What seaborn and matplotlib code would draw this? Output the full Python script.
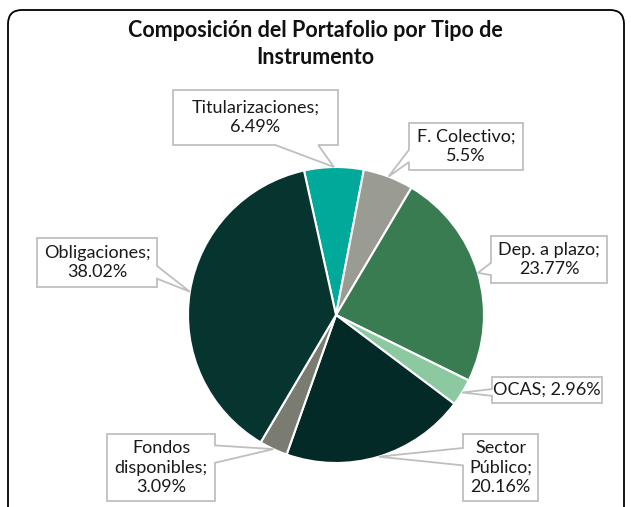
import matplotlib
matplotlib.use("Agg")
import matplotlib.pyplot as plt
from matplotlib.patches import Polygon, FancyBboxPatch
import numpy as np
import seaborn as sns

# data (clockwise from the top)
names = ["Titularizaciones", "F. Colectivo", "Dep. a plazo", "OCAS",
         "Sector\nPúblico", "Fondos\ndisponibles", "Obligaciones"]
shares = [6.49, 5.5, 23.77, 2.96, 20.16, 3.09, 38.02]
colors = ["#00A99A", "#9A9B92", "#3A7C52", "#8CC9A0",
          "#032A26", "#7B7C71", "#06352F"]
title = "Composición del Portafolio por Tipo de\nInstrumento"

# layout (pixels, y from top)
W, H = 631, 507
center = (336, 315)
radius = 148
seps = ["\n", "\n", "\n", " ", "\n", "\n", "\n"]
boxes = [(173, 90, 338, 145), (409, 123, 523, 170), (491, 236, 607, 283),
         (492, 377, 602, 403), (463, 434, 538, 501), (107, 434, 215, 501),
         (37, 238, 157, 287)]

sns.set_theme(style="white")
plt.rcParams["font.family"] = ["Lato", "DejaVu Sans"]

fig = plt.figure(figsize=(W / 100, H / 100), dpi=100)
ax = fig.add_axes([0, 0, 1, 1])


def fy(y):
    return H - y


wedges, _ = ax.pie(shares, colors=colors, startangle=102.5, counterclock=False,
                   center=(center[0], fy(center[1])), radius=radius,
                   wedgeprops=dict(edgecolor="white", linewidth=1.5))
ax.set_xlim(0, W)
ax.set_ylim(0, H)
ax.set_aspect("auto")
ax.axis("off")


def callout(box, tip):
    x0, y0, x1, y1 = box
    tx, ty = tip
    dx = max(x0 - tx, tx - x1, 0)
    dy = max(y0 - ty, ty - y1, 0)
    if dx > dy:
        L = y1 - y0
        c = np.clip(ty, y0 + 0.3 * L, y1 - 0.3 * L)
        a, b = c - 0.13 * L, c + 0.13 * L
        if tx < x0:
            v = [(x0, y0), (x1, y0), (x1, y1), (x0, y1), (x0, b), (tx, ty), (x0, a)]
        else:
            v = [(x0, y0), (x1, y0), (x1, a), (tx, ty), (x1, b), (x1, y1), (x0, y1)]
    else:
        L = x1 - x0
        c = np.clip(tx, x0 + 0.25 * L, x1 - 0.25 * L)
        a, b = c - 0.13 * L, c + 0.13 * L
        if ty > y1:
            v = [(x0, y0), (x1, y0), (x1, y1), (b, y1), (tx, ty), (a, y1), (x0, y1)]
        else:
            v = [(x0, y0), (a, y0), (tx, ty), (b, y0), (x1, y0), (x1, y1), (x0, y1)]
    return [(x, fy(y)) for x, y in v]


for w, name, val, sep, box in zip(wedges, names, shares, seps, boxes):
    mid = np.deg2rad((w.theta1 + w.theta2) / 2)
    tip = (center[0] + radius * np.cos(mid), center[1] - radius * np.sin(mid))
    ax.add_patch(Polygon(callout(box, tip), closed=True, facecolor="white",
                         edgecolor="#BFBFBF", linewidth=1.3, zorder=3))
    ax.text((box[0] + box[2]) / 2, fy((box[1] + box[3]) / 2),
            f"{name};{sep}{val:g}%", ha="center", va="center",
            fontsize=13, color="#1A1A1A", linespacing=1.3, zorder=4)

ax.text(315, fy(44), title, ha="center", va="center", fontsize=15.5,
        fontweight="bold", color="#111111", linespacing=1.3)

ax.add_patch(FancyBboxPatch((8, fy(530)), 616, 520,
                            boxstyle="round,pad=0,rounding_size=14",
                            facecolor="none", edgecolor="black", linewidth=1.3,
                            clip_on=False, zorder=5))

fig.savefig("out.png", dpi=100)
